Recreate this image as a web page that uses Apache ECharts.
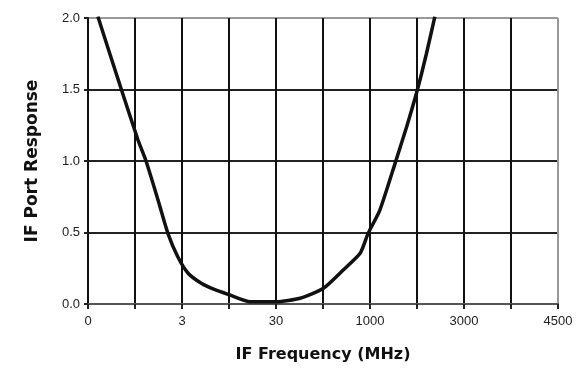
<!DOCTYPE html>
<html><head><meta charset="utf-8">
<script src="https://cdn.jsdelivr.net/npm/echarts@6/dist/echarts.min.js"></script>
<style>html,body{margin:0;padding:0;background:#fff}#c{width:581px;height:371px}</style>
</head><body><div id="c"></div>
<script>
// x positions are in grid-division units (0..10); labels every 2 divisions
const xTickLabels = {0:'0', 2:'3', 4:'30', 6:'1000', 8:'3000', 10:'4500'};
const curveX = [0.21, 0.71, 1.06, 1.24, 1.49, 1.70, 1.91, 2.13, 2.41, 2.70, 3.02, 3.45, 4.01, 4.51, 5.01, 5.43, 5.79, 5.96, 6.21, 6.53, 6.78, 7.01, 7.20, 7.38];
const curveY = [2.01, 1.50, 1.15, 0.995, 0.727, 0.494, 0.33, 0.215, 0.145, 0.10, 0.063, 0.016, 0.016, 0.04, 0.11, 0.238, 0.355, 0.494, 0.657, 0.98, 1.24, 1.50, 1.75, 2.01];
const xName = 'IF Frequency (MHz)';
const yName = 'IF Port Response';

const chart = echarts.init(document.getElementById('c'), null, {renderer:'canvas'});
chart.setOption({
  animation:false,
  backgroundColor:'#fff',
  grid:{left:88, right:23, top:18, bottom:67},
  xAxis:{
    type:'value', min:0, max:10, interval:1,
    name:xName, nameLocation:'middle', nameGap:43,
    nameTextStyle:{fontFamily:'DejaVu Sans', fontWeight:'bold', fontSize:16, color:'#111'},
    axisLine:{show:true, lineStyle:{color:'#555', width:2}},
    axisTick:{show:true, inside:false, length:5, lineStyle:{color:'#222', width:2}},
    axisLabel:{margin:11, fontFamily:'Liberation Sans', fontSize:13, color:'#222',
      formatter:v=> (xTickLabels[v] !== undefined ? xTickLabels[v] : '')},
    splitLine:{show:true, lineStyle:{width:2, color:['#111','#111','#111','#111','#111','#111','#111','#111','#111','#111','#999']}}
  },
  yAxis:{
    type:'value', min:0, max:2, interval:0.5,
    name:yName, nameLocation:'middle', nameGap:47,
    nameTextStyle:{fontFamily:'DejaVu Sans', fontWeight:'bold', fontSize:17, color:'#111'},
    axisLine:{show:true, lineStyle:{color:'#111', width:2}},
    axisTick:{show:true, length:4, lineStyle:{color:'#222', width:2}},
    axisLabel:{margin:8, fontFamily:'Liberation Sans', fontSize:13, color:'#222',
      formatter:v=>v.toFixed(1)},
    splitLine:{show:true, lineStyle:{width:2, color:['#555','#222','#222','#222','#999']}}
  },
  series:[{
    type:'line', data:curveX.map((x,i)=>[x,curveY[i]]),
    smooth:0.2, showSymbol:false, clip:true,
    lineStyle:{color:'#111', width:3.5}
  }]
});
</script></body></html>
